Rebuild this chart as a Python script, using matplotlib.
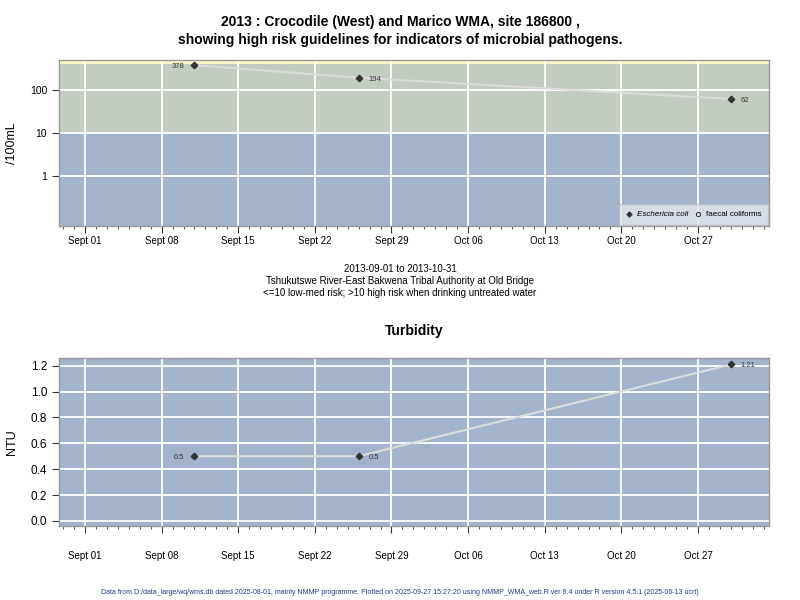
import datetime as dt

import matplotlib

matplotlib.use("Agg")
import matplotlib.dates as mdates
import matplotlib.pyplot as plt
from matplotlib.lines import Line2D
from matplotlib.ticker import FixedLocator, NullFormatter

plt.rcParams["font.family"] = ["Liberation Sans", "DejaVu Sans"]

# data
sample_dates = [dt.date(2013, 9, 11), dt.date(2013, 9, 26), dt.date(2013, 10, 30)]
ecoli = [378, 194, 62]
turbidity = [0.5, 0.5, 1.21]
label_side = ["left", "right", "right"]

tick_dates = [dt.date(2013, 9, 1) + dt.timedelta(days=7 * i) for i in range(9)]
tick_labels = ["Sept 01", "Sept 08", "Sept 15", "Sept 22", "Sept 29",
               "Oct 06", "Oct 13", "Oct 20", "Oct 27"]

risk_bands = [(0.01, 10, "#a2b3cb"), (10, 400, "#c3ccc0"), (400, 1000, "#fff5c8")]
log_ticks = [1, 10, 100]
log_labels = ["1", "10", "100"]
ntu_ticks = [0.0, 0.2, 0.4, 0.6, 0.8, 1.0, 1.2]

start = mdates.date2num(dt.date(2013, 9, 1))
xlim = (start - 2.375, start + 62.49)
day_ticks = [start + d for d in range(-2, 63)]

BG = "#a2b3cb"
LINE = "#dcdcdc"
MARK = "#333333"
BORDER = "#999999"


def style_axes(ax, label_pad):
    ax.set_xlim(xlim)
    ax.xaxis.set_major_locator(FixedLocator(mdates.date2num(tick_dates)))
    ax.set_xticklabels(tick_labels, fontsize=7)
    ax.xaxis.set_minor_locator(FixedLocator(day_ticks))
    ax.xaxis.set_minor_formatter(NullFormatter())
    ax.tick_params(axis="x", which="major", length=5, width=0.8, color="#333333", pad=label_pad)
    ax.tick_params(axis="x", which="minor", length=2, width=0.6, color="#333333")
    ax.tick_params(axis="y", length=5, width=0.8, color="#333333", labelsize=7.5)
    for s in ax.spines.values():
        s.set_color(BORDER)
        s.set_linewidth(1.0)
    ax.grid(True, which="major", color="white", linewidth=1.3)
    ax.set_axisbelow(True)


def annotate_points(ax, xs, ys, labels):
    for x, y, lab, side in zip(xs, ys, labels, label_side):
        off = -7 if side == "left" else 7
        ax.annotate(lab, (x, y), xytext=(off, -1), textcoords="offset points",
                    ha="right" if side == "left" else "left", va="center",
                    fontsize=5.5, color="#333333")


fig = plt.figure(figsize=(8, 6), dpi=100)

# top panel: microbial indicators
ax1 = fig.add_axes([0.07375, 0.6233, 0.8875, 0.2767])
ax1.set_yscale("log")
ax1.set_ylim(0.069, 500)
for lo, hi, col in risk_bands:
    ax1.axhspan(lo, hi, color=col, zorder=0, linewidth=0)
xs = mdates.date2num(sample_dates)
ax1.plot(xs, ecoli, color=LINE, linewidth=1.5, zorder=3)
ax1.plot(xs, ecoli, linestyle="none", marker="D", markersize=3.3, color=MARK, zorder=4)
annotate_points(ax1, xs, ecoli, [str(v) for v in ecoli])
ax1.yaxis.set_major_locator(FixedLocator(log_ticks))
ax1.set_yticklabels(log_labels)
ax1.yaxis.set_minor_locator(FixedLocator([]))
style_axes(ax1, 2)
ax1.set_ylabel("/100mL", fontsize=9)
ax1.yaxis.set_label_coords(-0.058, 0.5)
handles = [
    Line2D([], [], linestyle="none", marker="D", markersize=2.5, color=MARK),
    Line2D([], [], linestyle="none", marker="o", markersize=3,
           markerfacecolor="none", markeredgecolor=MARK, markeredgewidth=0.7),
]
leg = ax1.legend(handles, ["Eschericia coli", "faecal coliforms"], loc="lower right",
                 ncol=2, fontsize=5.8, frameon=True, fancybox=False,
                 handlelength=0.8, handletextpad=0.6, columnspacing=0.8,
                 borderaxespad=0.15, borderpad=0.8)
leg.get_frame().set_facecolor("#e3e7ee")
leg.get_frame().set_edgecolor("#bbbbbb")
leg.get_texts()[0].set_fontstyle("italic")

fig.text(0.5, 0.963, "2013 : Crocodile (West) and Marico WMA, site 186800 ,",
         ha="center", va="center", fontsize=10, fontweight="bold")
fig.text(0.5, 0.933, "showing high risk guidelines for indicators of microbial pathogens.",
         ha="center", va="center", fontsize=10, fontweight="bold")

fig.text(0.5, 0.551, "2013-09-01 to 2013-10-31", ha="center", va="center", fontsize=7)
fig.text(0.5, 0.531, "Tshukutswe River-East Bakwena Tribal Authority at Old Bridge",
         ha="center", va="center", fontsize=7)
fig.text(0.5, 0.511, "<=10 low-med risk; >10 high risk when drinking untreated water",
         ha="center", va="center", fontsize=7)

# bottom panel: turbidity
ax2 = fig.add_axes([0.07375, 0.1233, 0.8875, 0.28])
ax2.set_facecolor(BG)
ax2.set_ylim(-0.04, 1.26)
ax2.plot(xs, turbidity, color=LINE, linewidth=1.5, zorder=3)
ax2.plot(xs, turbidity, linestyle="none", marker="D", markersize=3.3, color=MARK, zorder=4)
annotate_points(ax2, xs, turbidity, [str(v) for v in turbidity])
ax2.yaxis.set_major_locator(FixedLocator(ntu_ticks))
ax2.set_yticklabels([f"{v:.1f}" for v in ntu_ticks])
style_axes(ax2, 13)
ax2.tick_params(axis="y", labelsize=8.5)
ax2.set_ylabel("NTU", fontsize=9)
ax2.yaxis.set_label_coords(-0.058, 0.5)
fig.text(0.5175, 0.449, "Turbidity", ha="center", va="center", fontsize=10, fontweight="bold")

fig.text(0.5, 0.013,
         "Data from D:/data_large/wq/wms.db dated 2025-08-01, mainly NMMP programme. "
         "Plotted on 2025-09-27 15:27:20 using NMMP_WMA_web.R ver 9.4 under R version 4.5.1 (2025-06-13 ucrt)",
         ha="center", va="center", fontsize=5, color="#1f3a7a")

fig.savefig("out.png", dpi=100)
